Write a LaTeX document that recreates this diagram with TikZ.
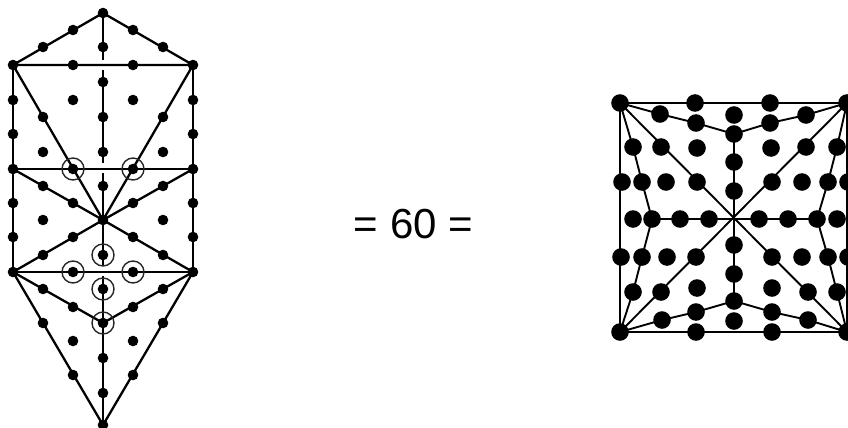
\documentclass[tikz,border=0pt]{standalone}
\usepackage{fontspec}
\setmainfont{Liberation Sans}
\tikzset{
  ldot/.style={circle, fill=black, inner sep=0pt, minimum size=10.6pt},
  rdot/.style={circle, fill=black, inner sep=0pt, minimum size=17.6pt},
  ring/.style={circle, draw=black!85, line width=1.4pt, inner sep=0pt, minimum size=22pt},
  edge/.style={draw=black, line width=2.3pt},
  redge/.style={draw=black, line width=1.9pt},
}
\begin{document}
\begin{tikzpicture}[x=1pt, y=-1pt]
  \useasboundingbox (0,0) rectangle (848,428);
  \clip (0,0) rectangle (848,427);
  % left figure
  \foreach \name/\x/\y in {t/103/13, ta/73/30, tb/133/30, tc/43/47, td/163/47, tm/103/47,
    al/13/65, ab/73/65, ac/133/65, ar/193/65, am/103/82,
    bl/13/100, bb/73/100, bc/133/100, br/193/100, bm/103/117, be/43/117, bf/163/117,
    cl/13/134, cr/193/134, cm/103/152, ce/43/152, cf/163/152,
    dl/13/169, db/73/169, dc/133/169, dr/193/169, dm/103/186, de/43/186, df/163/186,
    el/13/203, eb/73/203, ec/133/203, er/193/203, o/103/220, ee/43/220, ef/163/220,
    fl/13/237, fb/73/237, fc/133/237, fr/193/237, fm/103/255, fe/43/255, ff/163/255,
    gl/13/272, gb/73/272, gc/133/272, gr/193/272, gm/103/289, ge/43/289, gf/163/289,
    hb/73/307, hc/133/307, hm/103/323, he/43/323, hf/163/323,
    ib/73/341, ic/133/341, im/103/358, jb/73/375, jc/133/375, jm/103/393, z/103/425}
    \node[ldot] (\name) at (\x,\y) {};
  \coordinate (v1) at (103,60);
  \coordinate (v2) at (103,70);
  \coordinate (v3) at (103,163);
  \coordinate (v4) at (103,173);
  \coordinate (v5) at (103,266);
  \coordinate (v6) at (103,276);
  \draw[edge] (t.center) -- (al.center) -- (ar.center) -- cycle;
  \draw[edge] (al.center) -- (gl.center) -- (gr.center) -- (ar.center);
  \draw[edge] (dl.center) -- (dr.center);
  \draw[edge] (al.center) -- (o.center) -- (ar.center);
  \draw[edge] (dl.center) -- (o.center) -- (dr.center);
  \draw[edge] (gl.center) -- (o.center) -- (gr.center);
  \draw[edge] (gl.center) -- (hm.center) -- (gr.center);
  \draw[edge] (gl.center) -- (z.center) -- (gr.center);
  \draw[edge] (t.center) -- (v1);
  \draw[edge] (v2) -- (v3);
  \draw[edge] (v4) -- (v5);
  \draw[edge] (v6) -- (z.center);
  \foreach \name/\at in {ra/db, rb/dc, rc/fm, rd/gb, re/gc, rf/gm, rg/hm}
    \node[ring] (\name) at (\at) {};
  % middle
  \node[font=\fontsize{42}{42}\selectfont] (eq) at (413.5,224) {= 60 =};
  % right figure
  \foreach \name/\x/\y in {nw/620/103, sa/695/103, sb/770/103, ne/847/103,
    ka/660/114, kb/696/123, kc/734/115, kd/734/134, ke/770/123, kf/806/115,
    ma/633/147, mb/661/147, mc/697/148, md/771/148, me/806/147, mf/837/147, mg/734/162,
    na/622/182, nb/642/182, nc/666/182, nd/697/182, nf/772/182, ng/802/182, nh/828/182, ni/848/182, nj/734/191,
    pa/633/219, pb/652/219, pc/680/219, pd/709/219, pf/759/219, pg/788/219, ph/817/219, pi/837/219,
    qa/621/257, qb/642/257, qc/667/257, qd/696/257, qf/772/257, qg/802/257, qh/828/257, qi/848/257, qj/734/245,
    ua/633/292, ub/661/292, uc/697/288, ud/772/288, ue/808/292, uf/837/292, ug/734/274,
    wa/662/320, wb/696/312, wc/734/301, wd/734/321, we/772/312, wf/808/320,
    sw/620/332, sc/696/332, sd/772/332, se/847/332}
    \node[rdot] (\name) at (\x,\y) {};
  \draw[redge] (nw.center) -- (ne.center) -- (se.center) -- (sw.center) -- cycle;
  \draw[redge] (nw.center) -- (ka.center) -- (kb.center) -- (kd.center) -- (ke.center) -- (kf.center) -- (ne.center);
  \draw[redge] (sw.center) -- (wa.center) -- (wb.center) -- (wc.center) -- (we.center) -- (wf.center) -- (se.center);
  \draw[redge] (nw.center) -- (ma.center) -- (nb.center) -- (pb.center) -- (qb.center) -- (ua.center) -- (sw.center);
  \draw[redge] (ne.center) -- (mf.center) -- (nh.center) -- (ph.center) -- (qh.center) -- (uf.center) -- (se.center);
  \draw[redge] (nw.center) -- (se.center);
  \draw[redge] (ne.center) -- (sw.center);
  \draw[redge] (pb.center) -- (ph.center);
  \draw[redge] (kd.center) -- (wc.center);
\end{tikzpicture}
\end{document}
